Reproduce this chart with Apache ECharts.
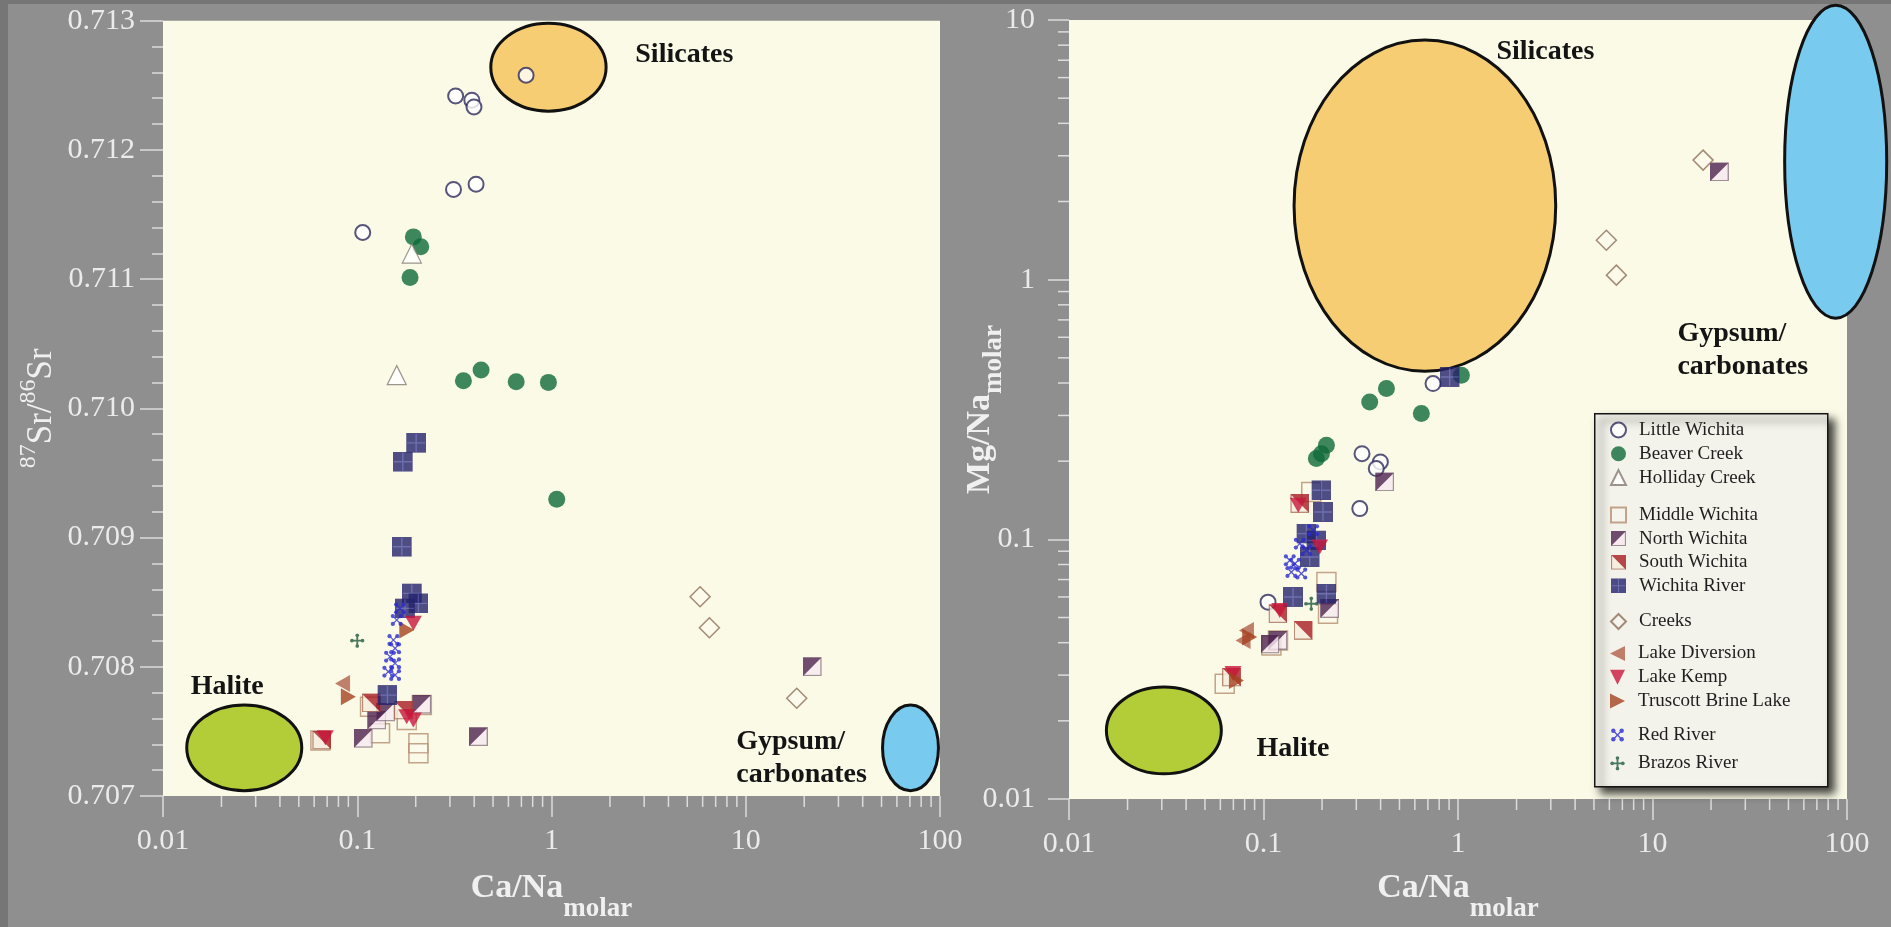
<!DOCTYPE html>
<html>
<head>
<meta charset="utf-8">
<title>Sr isotopes and Mg/Na versus Ca/Na</title>
<script src="https://cdn.jsdelivr.net/npm/echarts@6/dist/echarts.min.js"></script>
<style>
  html, body { margin: 0; padding: 0; background: #8f8f8f; }
  #chart { width: 1891px; height: 927px; }
</style>
</head>
<body>
<div id="chart"></div>
<script>
// ---------------- data: [Ca/Na molar, 87Sr/86Sr] ----------------
const littleWichitaSr = [[0.74, 0.712578], [0.321, 0.712418], [0.389, 0.712385], [0.399, 0.712333], [0.409, 0.711735], [0.313, 0.711694], [0.1067, 0.711361]];
const beaverCreekSr = [[0.1945, 0.711327], [0.2123, 0.71125], [0.187, 0.711013], [0.352, 0.710213], [0.434, 0.710296], [0.658, 0.710206], [0.964, 0.710201], [1.064, 0.709296]];
const hollidayCreekSr = [[0.1597, 0.710257], [0.191, 0.711198]];
const middleWichitaSr = [[0.2065, 0.707408], [0.2065, 0.70733], [0.215, 0.707704], [0.131, 0.707485], [0.0646, 0.70743], [0.1164, 0.707691], [0.1798, 0.707588]];
const northWichitaSr = [[0.1074, 0.707446], [0.421, 0.707459], [22.0, 0.708], [0.215, 0.70771], [0.126, 0.707588], [0.14, 0.70765]];
const southWichitaSr = [[0.0656, 0.707433], [0.1725, 0.707665], [0.118, 0.70772]];
const wichitaRiverSr = [[0.201, 0.709733], [0.1716, 0.709587], [0.1696, 0.708929], [0.191, 0.708568], [0.2065, 0.708491], [0.176, 0.708452], [0.143, 0.707781]];
const creeksSr = [[5.82, 0.708542], [6.5, 0.708302], [18.3, 0.707756]];
const lakeDiversionSr = [[0.084, 0.70787]];
const lakeKempSr = [[0.1798, 0.707614], [0.1945, 0.707588], [0.0685, 0.70745], [0.1945, 0.708336]];
const truscottSr = [[0.09, 0.707768], [0.18, 0.708284]];
const redRiverSr = [[0.166, 0.708452], [0.1597, 0.708362], [0.1535, 0.708207], [0.1566, 0.708143], [0.1475, 0.708078], [0.1566, 0.708027], [0.1445, 0.707962], [0.1566, 0.707936]];
const brazosRiverSr = [[0.1, 0.708202]];

// ---------------- data: [Ca/Na molar, Mg/Na molar] ----------------
const littleWichitaMg = [[0.744, 0.398], [0.321, 0.2138], [0.399, 0.1986], [0.38, 0.1873], [0.3126, 0.1313], [0.1055, 0.0573]];
const beaverCreekMg = [[1.041, 0.4285], [0.4286, 0.381], [0.3516, 0.338], [0.648, 0.305], [0.2106, 0.2303], [0.187, 0.2046], [0.1985, 0.2138]];
const hollidayCreekMg = [];
const middleWichitaMg = [[0.2106, 0.0685], [0.176, 0.152], [0.1098, 0.039], [0.2147, 0.0517], [0.0632, 0.0278], [0.1187, 0.0408]];
const northWichitaMg = [[0.42, 0.1663], [22.1, 2.6], [0.1187, 0.0408], [0.219, 0.0541], [0.108, 0.0395]];
const southWichitaMg = [[0.1536, 0.1373], [0.1597, 0.0446], [0.0684, 0.02947], [0.1187, 0.0517]];
const wichitaRiverMg = [[0.1985, 0.1545], [0.2023, 0.1274], [0.1662, 0.1052], [0.187, 0.099], [0.1728, 0.0855], [0.1418, 0.06], [0.2106, 0.0617], [0.906, 0.422]];
const creeksMg = [[18.2, 2.887], [5.79, 1.419], [6.52, 1.041]];
const lakeDiversionMg = [[0.0817, 0.0446], [0.0785, 0.0408]];
const lakeKempMg = [[0.1212, 0.0532], [0.1509, 0.1352], [0.1945, 0.0934], [0.0697, 0.0304]];
const truscottMg = [[0.0849, 0.0421], [0.0726, 0.0286]];
const redRiverMg = [[0.1536, 0.0962], [0.1662, 0.0908], [0.1451, 0.0806], [0.1565, 0.0738], [0.1391, 0.0748], [0.18, 0.1084], [0.1365, 0.083]];
const brazosRiverMg = [[0.176, 0.0565]];

// end-member fields: [Ca/Na low, y low, Ca/Na high, y high]
const fieldNames = ['Silicates', 'Halite', 'Gypsum/carbonates'];
const srFields = [[0.487, 0.71230, 1.91, 0.71298], [0.01325, 0.707041, 0.0518, 0.707704], [50.6, 0.707041, 98.2, 0.707704]];
const mgFields = [[0.1436, 0.444, 3.18, 8.37], [0.01557, 0.0125, 0.0607, 0.02697], [47.8, 0.711, 160, 11.4]];

// field labels: [Ca/Na, y] of the label's left-middle point
const fieldLabels = ['Silicates', 'Halite', 'Gypsum/\ncarbonates'];
const srLabelAt = [[2.70, 0.712733], [0.01388, 0.707843], [8.93, 0.707292]];
const mgLabelAt = [[1.576, 7.52], [0.092, 0.01566], [13.43, 0.535]];

// axis ticks
const caNaMinorTicks = [0.02, 0.03, 0.04, 0.05, 0.06, 0.07, 0.08, 0.09, 0.2, 0.3, 0.4, 0.5, 0.6, 0.7, 0.8, 0.9, 2, 3, 4, 5, 6, 7, 8, 9, 20, 30, 40, 50, 60, 70, 80, 90];
const mgNaMinorTicks = [0.02, 0.03, 0.04, 0.05, 0.06, 0.07, 0.08, 0.09, 0.2, 0.3, 0.4, 0.5, 0.6, 0.7, 0.8, 0.9, 2, 3, 4, 5, 6, 7, 8, 9];

const seriesNames = ['Little Wichita', 'Beaver Creek', 'Holliday Creek', 'Middle Wichita', 'North Wichita', 'South Wichita', 'Wichita River', 'Creeks', 'Lake Diversion', 'Lake Kemp', 'Truscott Brine Lake', 'Red River', 'Brazos River'];
const legendGroups = [
  ['Little Wichita', 'Beaver Creek', 'Holliday Creek'],
  ['Middle Wichita', 'North Wichita', 'South Wichita', 'Wichita River'],
  ['Creeks'],
  ['Lake Diversion', 'Lake Kemp', 'Truscott Brine Lake'],
  ['Red River', 'Brazos River']
];

// ---------------- styling ----------------
const FONT = "'Liberation Serif', 'Times New Roman', serif";
const AXIS_TEXT = '#ebebeb';
const TICK = '#dcdcdc';
const PLOT_BG = '#fbfae7';

function svgSymbol(body, w, h) {
  const svg = '<svg xmlns="http://www.w3.org/2000/svg" width="' + w + '" height="' + h +
    '" viewBox="0 0 ' + w + ' ' + h + '">' + body + '</svg>';
  return 'image://data:image/svg+xml;charset=utf-8,' + encodeURIComponent(svg);
}

const MARKS = {
  'Little Wichita': { symbol: 'circle', symbolSize: 15, itemStyle: { color: '#ffffff', borderColor: '#2e2a5c', borderWidth: 2 } },
  'Beaver Creek': { symbol: 'circle', symbolSize: 17, itemStyle: { color: '#0f6a3a' } },
  'Holliday Creek': { symbol: 'triangle', symbolSize: 19, itemStyle: { color: '#ffffff', borderColor: '#857a72', borderWidth: 1.2 } },
  'Middle Wichita': { symbol: 'rect', symbolSize: 19, itemStyle: { color: 'rgba(255,255,255,0.15)', borderColor: '#b58e70', borderWidth: 1.5 } },
  'North Wichita': { symbol: svgSymbol('<rect x="0.75" y="0.75" width="18.5" height="18.5" fill="#f7e9f0" stroke="#8a7482" stroke-width="1.5"/><path d="M0 0H20L0 20Z" fill="#4e2350"/>', 20, 20), symbolSize: 19 },
  'South Wichita': { symbol: svgSymbol('<rect x="0.75" y="0.75" width="18.5" height="18.5" fill="#f6ecdc" stroke="#a87058" stroke-width="1.5"/><path d="M0 0H20V20Z" fill="#a81c22"/>', 20, 20), symbolSize: 19 },
  'Wichita River': { symbol: svgSymbol('<rect width="20" height="20" fill="#23226c"/><path d="M10 1V19M1 10H19" stroke="#4d4ca2" stroke-width="1.4"/>', 20, 20), symbolSize: 20 },
  'Creeks': { symbol: 'diamond', symbolSize: 20, itemStyle: { color: 'rgba(255,255,255,0.2)', borderColor: '#8d6f58', borderWidth: 1.5 } },
  'Lake Diversion': { symbol: 'path://M0,5L10,0L10,10Z', symbolSize: [15, 17], itemStyle: { color: '#b0604a' } },
  'Lake Kemp': { symbol: 'path://M0,0L10,0L5,10Z', symbolSize: [17, 15], itemStyle: { color: '#c8173c' } },
  'Truscott Brine Lake': { symbol: 'path://M0,0L10,5L0,10Z', symbolSize: [15, 17], itemStyle: { color: '#a4421f' } },
  'Red River': { symbol: svgSymbol('<path d="M4 4L14 14M14 4L4 14" stroke="#2a2ad2" stroke-width="1.6"/><g fill="#2a2ad2"><circle cx="4" cy="4" r="2.7"/><circle cx="14" cy="4" r="2.7"/><circle cx="4" cy="14" r="2.7"/><circle cx="14" cy="14" r="2.7"/></g>', 18, 18), symbolSize: 14 },
  'Brazos River': { symbol: svgSymbol('<path d="M9 2V16M2 9H16" stroke="#1f5b3c" stroke-width="2.2"/><g fill="#1f5b3c"><circle cx="9" cy="2.6" r="2.2"/><circle cx="9" cy="15.4" r="2.2"/><circle cx="2.6" cy="9" r="2.2"/><circle cx="15.4" cy="9" r="2.2"/></g>', 18, 18), symbolSize: 15 }
};

const SR_DATA = {
  'Little Wichita': littleWichitaSr, 'Beaver Creek': beaverCreekSr, 'Holliday Creek': hollidayCreekSr,
  'Middle Wichita': middleWichitaSr, 'North Wichita': northWichitaSr, 'South Wichita': southWichitaSr,
  'Wichita River': wichitaRiverSr, 'Creeks': creeksSr, 'Lake Diversion': lakeDiversionSr, 'Lake Kemp': lakeKempSr,
  'Truscott Brine Lake': truscottSr, 'Red River': redRiverSr, 'Brazos River': brazosRiverSr
};
const MG_DATA = {
  'Little Wichita': littleWichitaMg, 'Beaver Creek': beaverCreekMg, 'Holliday Creek': hollidayCreekMg,
  'Middle Wichita': middleWichitaMg, 'North Wichita': northWichitaMg, 'South Wichita': southWichitaMg,
  'Wichita River': wichitaRiverMg, 'Creeks': creeksMg, 'Lake Diversion': lakeDiversionMg, 'Lake Kemp': lakeKempMg,
  'Truscott Brine Lake': truscottMg, 'Red River': redRiverMg, 'Brazos River': brazosRiverMg
};

const FIELD_COLORS = { 'Silicates': '#f6cd72', 'Halite': '#b2cd38', 'Gypsum/carbonates': '#78caef' };

// ---------------- helpers ----------------
function fieldSeries(axisIndex, boxes) {
  return {
    type: 'custom', xAxisIndex: axisIndex, yAxisIndex: axisIndex, clip: false, silent: true, z: 1,
    data: boxes,
    renderItem: function (params, api) {
      const a = api.coord([api.value(0), api.value(1)]);
      const b = api.coord([api.value(2), api.value(3)]);
      return {
        type: 'ellipse',
        shape: { cx: (a[0] + b[0]) / 2, cy: (a[1] + b[1]) / 2, rx: Math.abs(b[0] - a[0]) / 2, ry: Math.abs(b[1] - a[1]) / 2 },
        style: { fill: FIELD_COLORS[fieldNames[params.dataIndex]], stroke: '#111111', lineWidth: 3 }
      };
    }
  };
}

function labelSeries(axisIndex, points) {
  return {
    type: 'custom', xAxisIndex: axisIndex, yAxisIndex: axisIndex, clip: false, silent: true, z: 5,
    data: points,
    renderItem: function (params, api) {
      const p = api.coord([api.value(0), api.value(1)]);
      return {
        type: 'text', x: p[0], y: p[1],
        style: {
          text: fieldLabels[params.dataIndex], fill: '#141414',
          fontFamily: FONT, fontWeight: 'bold', fontSize: 28, lineHeight: 33,
          align: 'left', verticalAlign: 'middle'
        }
      };
    }
  };
}

// short minor ticks drawn outside the plot from the axis scale
function minorTickSeries(axisIndex, values, fixed, onX) {
  return {
    type: 'custom', xAxisIndex: axisIndex, yAxisIndex: axisIndex, clip: false, silent: true, z: 1,
    data: values.map(v => onX ? [v, fixed] : [fixed, v]),
    renderItem: function (params, api) {
      const p = api.coord([api.value(0), api.value(1)]);
      const shape = onX ? { x1: p[0], y1: p[1], x2: p[0], y2: p[1] + 11 }
                        : { x1: p[0] - 11, y1: p[1], x2: p[0], y2: p[1] };
      return { type: 'line', shape: shape, style: { stroke: TICK, lineWidth: 1.5 } };
    }
  };
}

const tickLabel = { color: AXIS_TEXT, fontFamily: FONT, fontSize: 30 };
function subscriptName(subLineHeight) {
  return {
    color: '#f0f0f0',
    rich: {
      m: { fontFamily: FONT, fontWeight: 'bold', fontSize: 34, color: '#f0f0f0', verticalAlign: 'top' },
      s: { fontFamily: FONT, fontWeight: 'bold', fontSize: 27, color: '#f0f0f0', lineHeight: subLineHeight }
    }
  };
}

// ---------------- series ----------------
const series = [fieldSeries(0, srFields), fieldSeries(1, mgFields)];
seriesNames.forEach(function (name) {
  series.push(Object.assign({ type: 'scatter', name: name, xAxisIndex: 0, yAxisIndex: 0, data: SR_DATA[name], z: 3 }, MARKS[name]));
  series.push(Object.assign({ type: 'scatter', name: name, xAxisIndex: 1, yAxisIndex: 1, data: MG_DATA[name], z: 3 }, MARKS[name]));
});
series.push(labelSeries(0, srLabelAt), labelSeries(1, mgLabelAt));
series.push(minorTickSeries(0, caNaMinorTicks, 0.707, true));
series.push(minorTickSeries(1, caNaMinorTicks, 0.01, true));
series.push(minorTickSeries(1, mgNaMinorTicks, 0.01, false));

// legend: one block per group so the gaps between groups can differ
const legendTops = [420.5, 505.5, 612, 644, 725.5];
const legendGaps = [4.8, 4.6, 4.6, 4.8, 9.3];
const legends = legendGroups.map(function (group, i) {
  return {
    data: group, orient: 'vertical', left: 1610, top: legendTops[i], itemGap: legendGaps[i],
    itemWidth: 15, itemHeight: 15, padding: 0, z: 8, selectedMode: false,
    textStyle: { fontFamily: FONT, fontSize: 19, color: '#1e1e1e', padding: [0, 0, 0, 8] }
  };
});

const option = {
  backgroundColor: '#8f8f8f',
  animation: false,
  graphic: [
    { type: 'rect', left: 0, top: 0, shape: { width: 1891, height: 4 }, style: { fill: '#767676' }, z: 0 },
    { type: 'rect', left: 0, top: 0, shape: { width: 8, height: 927 }, style: { fill: '#767676' }, z: 0 },
    {
      type: 'rect', left: 1594, top: 413, z: 7,
      shape: { width: 233, height: 373 },
      style: { fill: '#f4f3eb', stroke: '#151515', lineWidth: 1.5, shadowBlur: 8, shadowOffsetX: 6, shadowOffsetY: 6, shadowColor: 'rgba(0,0,0,0.75)' }
    }
  ],
  legend: legends,
  grid: [
    { left: 163, top: 20.7, right: 951, bottom: 131, show: true, backgroundColor: PLOT_BG, borderWidth: 0, containLabel: false, outerBoundsMode: 'none' },
    { left: 1069, top: 20, right: 44, bottom: 128, show: true, backgroundColor: PLOT_BG, borderWidth: 0, containLabel: false, outerBoundsMode: 'none' }
  ],
  xAxis: [
    {
      gridIndex: 0, type: 'log', logBase: 10, min: 0.01, max: 100,
      axisLine: { show: false }, splitLine: { show: false },
      axisTick: { show: true, length: 21, lineStyle: { color: TICK, width: 1.5 } },
      axisLabel: Object.assign({ margin: 30 }, tickLabel),
      name: '{m|Ca/Na}{s|molar}', nameLocation: 'middle', nameGap: 75, nameMoveOverlap: false,
      nameTextStyle: subscriptName(76)
    },
    {
      gridIndex: 1, type: 'log', logBase: 10, min: 0.01, max: 100,
      axisLine: { show: false }, splitLine: { show: false },
      axisTick: { show: true, length: 21, lineStyle: { color: TICK, width: 1.5 } },
      axisLabel: Object.assign({ margin: 30 }, tickLabel),
      name: '{m|Ca/Na}{s|molar}', nameLocation: 'middle', nameGap: 72, nameMoveOverlap: false,
      nameTextStyle: subscriptName(76)
    }
  ],
  yAxis: [
    {
      gridIndex: 0, type: 'value', min: 0.707, max: 0.713, interval: 0.001,
      axisLine: { show: false }, splitLine: { show: false },
      axisTick: { show: true, length: 23, lineStyle: { color: TICK, width: 1.5 } },
      minorTick: { show: true, splitNumber: 5, length: 11, lineStyle: { color: TICK, width: 1.5 } },
      axisLabel: Object.assign({ margin: 28, formatter: v => v.toFixed(3) }, tickLabel),
      name: '{p|87}{m|Sr/}{p|86}{m|Sr}', nameLocation: 'middle', nameRotate: 90, nameGap: 96, nameMoveOverlap: false,
      nameTextStyle: {
        color: '#f0f0f0',
        rich: {
          m: { fontFamily: FONT, fontSize: 35, color: '#f0f0f0', lineHeight: 50 },
          p: { fontFamily: FONT, fontSize: 24, color: '#f0f0f0', verticalAlign: 'top' }
        }
      }
    },
    {
      gridIndex: 1, type: 'log', logBase: 10, min: 0.01, max: 10,
      axisLine: { show: false }, splitLine: { show: false },
      axisTick: { show: true, length: 21, lineStyle: { color: TICK, width: 1.5 } },
      axisLabel: Object.assign({ margin: 34 }, tickLabel),
      name: '{m|Mg/Na}{s|molar}', nameLocation: 'middle', nameRotate: 90, nameGap: 44, nameMoveOverlap: false,
      nameTextStyle: subscriptName(62)
    }
  ],
  series: series
};

const chart = echarts.init(document.getElementById('chart'), null, { renderer: 'canvas' });
chart.setOption(option);
</script>
</body>
</html>
